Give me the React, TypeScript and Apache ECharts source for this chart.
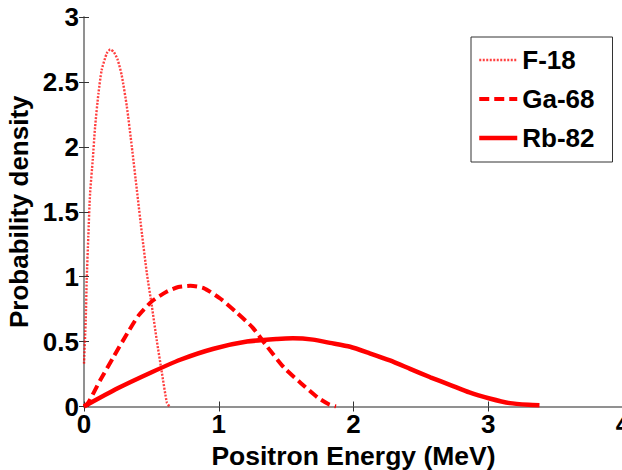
import React, { useEffect, useRef } from "react";
import * as echarts from "echarts";

const FONT = "'Liberation Sans', Arial, Helvetica, sans-serif";

const seriesNames = ["F-18", "Ga-68", "Rb-82"];

const f18X = [0, 0.013, 0.02, 0.032, 0.045, 0.065, 0.082, 0.107, 0.131, 0.169, 0.195, 0.222, 0.25, 0.28, 0.318, 0.355, 0.392, 0.43, 0.466, 0.504, 0.54, 0.578, 0.615, 0.634];
const f18Y = [0.33, 0.67, 0.97, 1.31, 1.64, 1.9, 2.15, 2.41, 2.59, 2.72, 2.75, 2.73, 2.67, 2.55, 2.31, 2.0, 1.67, 1.33, 1.03, 0.77, 0.51, 0.26, 0.03, 0.0];

const ga68X = [0, 0.032, 0.119, 0.218, 0.325, 0.404, 0.504, 0.616, 0.7, 0.79, 0.888, 1.013, 1.137, 1.25, 1.36, 1.484, 1.61, 1.733, 1.82, 1.87];
const ga68Y = [0, 0.03, 0.2, 0.38, 0.57, 0.7, 0.81, 0.885, 0.92, 0.93, 0.912, 0.83, 0.72, 0.61, 0.46, 0.3, 0.18, 0.07, 0.015, 0.0];

const rb82X = [0, 0.25, 0.494, 0.714, 0.962, 1.21, 1.433, 1.55, 1.7, 1.826, 1.975, 2.12, 2.27, 2.42, 2.57, 2.72, 2.86, 3.01, 3.16, 3.3, 3.38];
const rb82Y = [0, 0.14, 0.26, 0.36, 0.445, 0.5, 0.52, 0.525, 0.515, 0.49, 0.46, 0.41, 0.355, 0.29, 0.225, 0.165, 0.108, 0.062, 0.026, 0.013, 0.01];

const xTicks = { min: 0, max: 4, interval: 1 };
const yTicks = { min: 0, max: 3, interval: 0.5 };

const pairs = (xs: number[], ys: number[]) => xs.map((x, i) => [x, ys[i]]);

export default function App() {
  const ref = useRef<HTMLDivElement>(null);
  useEffect(() => {
    if (!ref.current) return;
    const chart = echarts.init(ref.current, null, { renderer: "svg" });
    const labelStyle = { color: "#000", fontSize: 26, fontWeight: "bold", fontFamily: FONT };
    const axisLine = { show: true, lineStyle: { color: "#8a8a8a", width: 1.5 } };
    const axisTick = { show: true, inside: true, length: 5, lineStyle: { color: "#333", width: 1 } };
    const option: any = {
      animation: false,
      backgroundColor: "#fff",
      grid: { left: 84, right: -1, top: 17, bottom: 63.5, containLabel: false, outerBoundsMode: "none" },
      xAxis: [
        {
          type: "value", ...xTicks, position: "bottom",
          axisLine, axisTick, splitLine: { show: false },
          axisLabel: { ...labelStyle, margin: 4 },
          name: "Positron Energy (MeV)", nameLocation: "middle", nameGap: 36,
          nameTextStyle: { ...labelStyle, fontSize: 26.5 },
        },
        {
          type: "value", ...xTicks, position: "top",
          axisLine, axisTick, splitLine: { show: false }, axisLabel: { show: false },
        },
      ],
      yAxis: [
        {
          type: "value", ...yTicks, position: "left",
          axisLine, axisTick, splitLine: { show: false },
          axisLabel: { ...labelStyle, margin: 5 },
          name: "Probability density", nameLocation: "middle", nameGap: 44,
          nameTextStyle: { ...labelStyle },
        },
        {
          type: "value", ...yTicks, position: "right",
          axisLine, axisTick, splitLine: { show: false }, axisLabel: { show: false },
        },
      ],
      legend: {
        orient: "vertical", left: 471, top: 37,
        padding: [9, 18, 10, 6], itemWidth: 38, itemHeight: 14, itemGap: 11,
        borderColor: "#333", borderWidth: 1, backgroundColor: "#fff",
        selectedMode: false,
        itemStyle: { opacity: 0, borderWidth: 0 },
        textStyle: { ...labelStyle, lineHeight: 28 },
        data: [
          { name: seriesNames[0], lineStyle: { width: 2.4 } },
          { name: seriesNames[1], lineStyle: { width: 4 } },
          { name: seriesNames[2], lineStyle: { width: 4.5 } },
        ],
      },
      series: [
        {
          name: seriesNames[0], type: "line", data: pairs(f18X, f18Y), symbol: "none", smooth: 0.2,
          lineStyle: { color: "#ff0000", width: 2.4, type: [2, 1.5], opacity: 0.75 }, itemStyle: { color: "#ff0000" },
        },
        {
          name: seriesNames[1], type: "line", data: pairs(ga68X, ga68Y), symbol: "none", smooth: 0.2,
          lineStyle: { color: "#ff0000", width: 4, type: [10, 5] }, itemStyle: { color: "#ff0000" },
        },
        {
          name: seriesNames[2], type: "line", data: pairs(rb82X, rb82Y), symbol: "none", smooth: 0.2,
          lineStyle: { color: "#ff0000", width: 4.5, type: "solid" }, itemStyle: { color: "#ff0000" },
        },
      ],
    };
    chart.setOption(option);
    return () => chart.dispose();
  }, []);
  return (
    <div
      ref={ref}
      style={{ position: "fixed", left: 0, top: 0, width: 622, height: 470, background: "#fff" }}
    />
  );
}
